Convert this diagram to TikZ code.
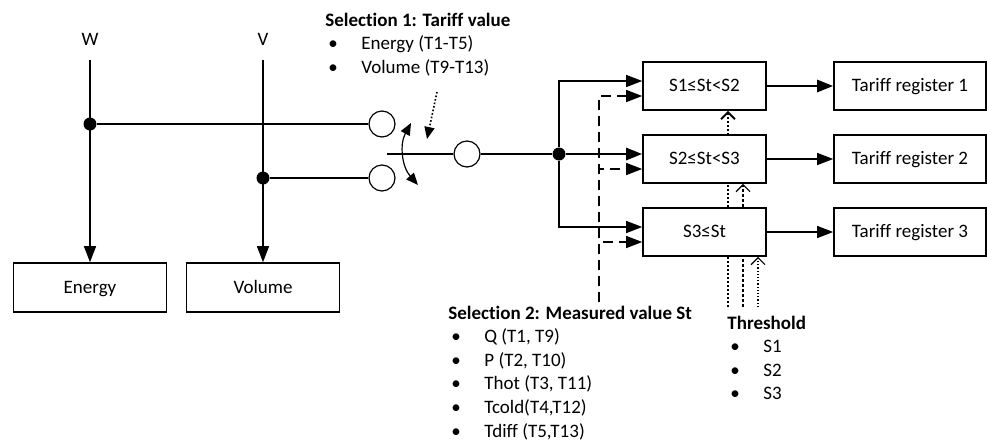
\documentclass[tikz,border=0pt]{standalone}
\usepackage{fontspec}
\setmainfont{Carlito}[Ligatures=NoCommon]
\usetikzlibrary{positioning,arrows.meta,backgrounds}
\newcommand{\bul}[1]{\makebox[18pt][l]{\hspace{1.5pt}\textbullet}#1}

\begin{document}
\begin{tikzpicture}[
  x=0.5pt, y=-0.5pt,
  node distance=36.5pt,
  >={Triangle[length=8pt,width=6pt]},
  box/.style={rectangle, draw, line width=0.8pt, fill=white, minimum width=61.5pt, minimum height=24pt, inner sep=0pt, text height=1.6ex, text depth=0.4ex},
  regbox/.style={box, minimum width=76pt},
  srcbox/.style={box, minimum width=76.5pt, minimum height=24.5pt},
  contact/.style={circle, draw, line width=0.6pt, fill=white, minimum size=13pt, inner sep=0pt},
  junction/.style={circle, fill, minimum size=6.5pt, inner sep=0pt},
  wire/.style={line width=0.6pt},
  mainwire/.style={line width=1.3pt},
  barb/.style={-{Straight Barb[length=3.5pt,width=7pt]}},
  txt/.style={inner sep=0pt, anchor=base west},
  font=\fontsize{9.5}{11.8}\selectfont
]
\useasboundingbox (0,0) rectangle (987,440);

% Measured quantities
\node (w) at (90,39) {W};
\node (v) at (263,39) {V};
\node[srcbox] (energy) at (90,287.5) {Energy};
\node[srcbox, right of=energy, node distance=86.5pt] (volume) {Volume};
\node[junction] (jw) at (90,124) {};
\node[junction] (jv) at (263,178) {};

% Switch
\node[contact] (c1) at (382,124) {};
\node[contact, below of=c1, node distance=27pt] (c2) {};
\node[contact] (c3) at (467,154) {};
\coordinate (pivot) at (387,154);
\coordinate (swa) at (411,123);
\coordinate (swb) at (418,185);
\coordinate (hint) at (437,92);
\coordinate (hintend) at (427,139);

% Comparators and registers
\node[box] (s1) at (704.5,86) {S1≤St<S2};
\node[box, below of=s1] (s2) {S2≤St<S3};
\node[box, below of=s2] (s3) {S3≤St};
\node[regbox, right of=s1, node distance=102.75pt] (r1) {Tariff register 1};
\node[regbox, right of=s2, node distance=102.75pt] (r2) {Tariff register 2};
\node[regbox, right of=s3, node distance=102.75pt] (r3) {Tariff register 3};
\node[junction] (js) at (559,154) {};
\coordinate (sel2) at (599,302);
\coordinate (t1) at (728,307);
\coordinate (t2) at (743,307);
\coordinate (t3) at (758,307);

% Texts
\node[txt] (sel1) at (325,26) {\begin{tabular}[t]{@{}l@{}}\textbf{Selection 1: Tariff value}\\ \bul{Energy (T1-T5)}\\ \bul{Volume (T9-T13)}\end{tabular}};
\node[txt] (sel2txt) at (448,319) {\begin{tabular}[t]{@{}l@{}}\textbf{Selection 2: Measured value St}\\ \bul{Q (T1, T9)}\\ \bul{P (T2, T10)}\\ \bul{Thot (T3, T11)}\\ \bul{Tcold(T4,T12)}\\ \bul{Tdiff (T5,T13)}\end{tabular}};
\node[txt] (thr) at (727,329) {\begin{tabular}[t]{@{}l@{}}\textbf{Threshold}\\ \bul{S1}\\ \bul{S2}\\ \bul{S3}\end{tabular}};

% Arrows
\draw[->, wire, shorten <=4pt] (w) -- (energy);
\draw[->, wire, shorten <=4pt] (v) -- (volume);
\draw[wire] (jw) -- (c1);
\draw[mainwire] (jv) -- (c2);
\draw[wire] (pivot) -- (c3);
\draw[<->, wire, >={Triangle[length=6pt,width=5pt]}] (swa) to[bend right=35] (swb);
\draw[line width=0.8pt, densely dotted, -{Triangle[length=6pt,width=5pt]}] (hint) -- (hintend);
\draw[mainwire] (c3) -- (js);
\draw[->, mainwire] (js) -- (js -| s2.west);
\draw[->, wire] (js) |- ([yshift=2.5pt]s1.west);
\draw[->, wire] (js) |- ([yshift=2.5pt]s3.west);
\draw[->, wire, dash pattern=on 5pt off 3pt] (sel2) |- ([yshift=-5pt]s1.west);
\draw[->, wire, dash pattern=on 5pt off 3pt] (sel2) |- ([yshift=-5pt]s2.west);
\draw[->, wire, dash pattern=on 5pt off 3pt] (sel2) |- ([yshift=-5pt]s3.west);
\draw[->, mainwire] (s1) -- (r1);
\draw[->, wire] (s2) -- (r2);
\draw[->, wire] (s3) -- (r3);

% Threshold lines behind the boxes
\begin{scope}[on background layer]
\draw[barb, line width=1pt, densely dotted] (t1) -- (t1 |- s1.south);
\draw[barb, wire, dash pattern=on 1.5pt off 1pt] (t2) -- (t2 |- s2.south);
\draw[barb, wire, densely dotted] (t3) -- (t3 |- s3.south);
\end{scope}
\end{tikzpicture}
\end{document}
